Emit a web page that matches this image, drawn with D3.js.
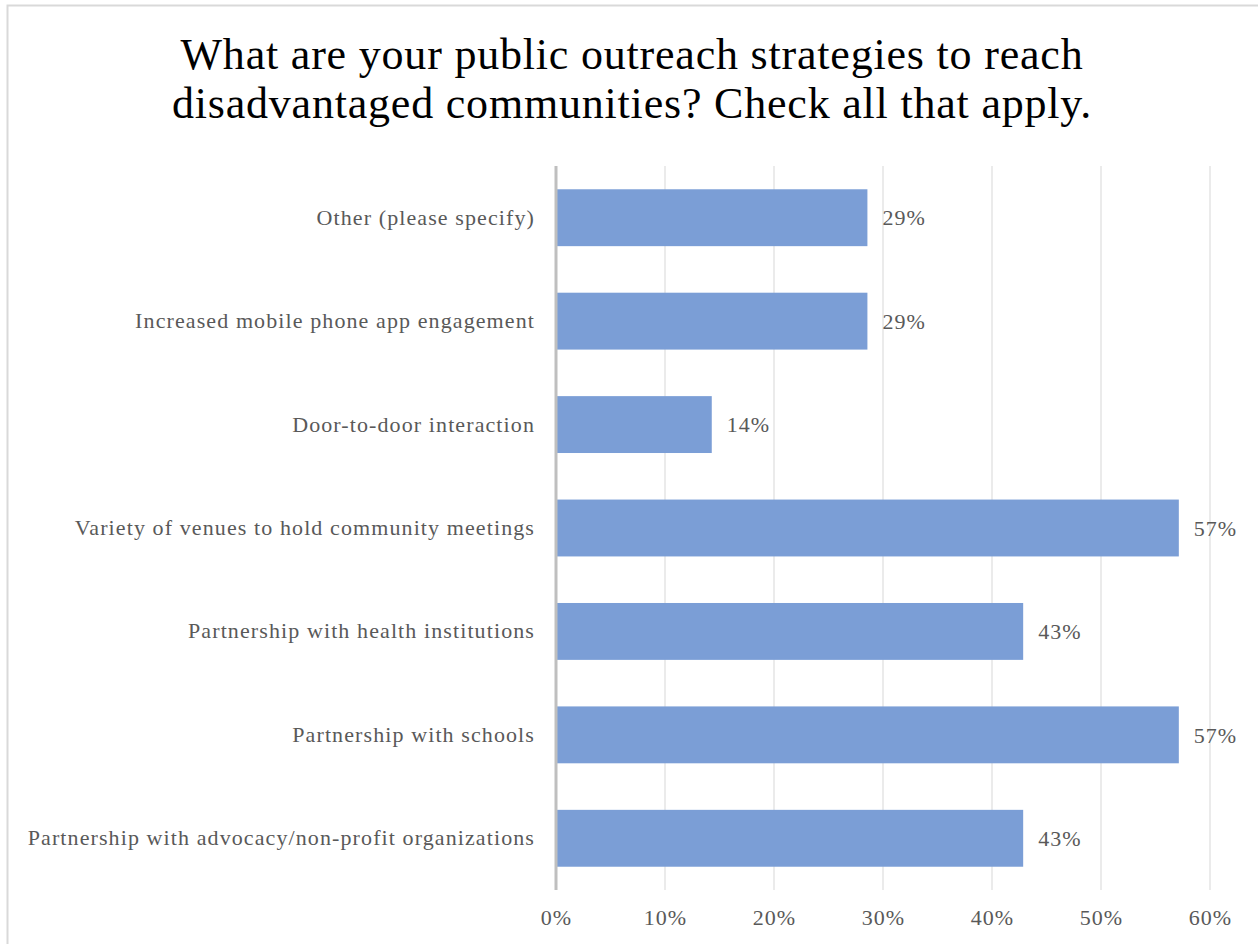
<!DOCTYPE html>
<html>
<head>
<meta charset="utf-8">
<script src="https://cdn.jsdelivr.net/npm/d3@7"></script>
<style>
  html, body { margin: 0; padding: 0; background: #fff; }
  svg { display: block; }
</style>
</head>
<body>
<svg id="chart" width="1258" height="944"></svg>
<script>
// Survey responses, listed top to bottom as drawn
const categories = [
  "Other (please specify)",
  "Increased mobile phone app engagement",
  "Door-to-door interaction",
  "Variety of venues to hold community meetings",
  "Partnership with health institutions",
  "Partnership with schools",
  "Partnership with advocacy/non-profit organizations"
];
const shares = [0.2857, 0.2857, 0.1429, 0.5714, 0.4286, 0.5714, 0.4286];
const valueLabels = ["29%", "29%", "14%", "57%", "43%", "57%", "43%"];
const tickValues = [0, 0.1, 0.2, 0.3, 0.4, 0.5, 0.6];
const titleLines = [
  "What are your public outreach strategies to reach",
  "disadvantaged communities? Check all that apply."
];

const svg = d3.select("#chart");
const font = "'Liberation Serif', 'DejaVu Serif', serif";
const textGrey = "#595959";

// outer frame
svg.append("rect")
  .attr("x", 7.5).attr("y", 5.5)
  .attr("width", 1262).attr("height", 960)
  .attr("fill", "#fff").attr("stroke", "#d9d9d9").attr("stroke-width", 2);

// title
svg.append("g").selectAll("text")
  .data(titleLines)
  .join("text")
  .attr("x", 632)
  .attr("y", (d, i) => 69 + i * 49)
  .attr("text-anchor", "middle")
  .attr("font-family", font)
  .attr("font-size", 44)
  .attr("letter-spacing", 0.8)
  .attr("fill", "#000")
  .text(d => d);

const plot = { left: 556, right: 1210, top: 166, bottom: 890 };

const x = d3.scaleLinear().domain([0, 0.6]).range([plot.left, plot.right]);
const y = d3.scaleBand().domain(categories).range([plot.top, plot.bottom]).paddingInner(0.45).paddingOuter(0.225);

// vertical gridlines
svg.append("g").selectAll("line")
  .data(tickValues.slice(1))
  .join("line")
  .attr("x1", d => x(d)).attr("x2", d => x(d))
  .attr("y1", plot.top).attr("y2", plot.bottom)
  .attr("stroke", "#ebebeb").attr("stroke-width", 2);

// bars
svg.append("g").selectAll("rect")
  .data(categories)
  .join("rect")
  .attr("x", x(0))
  .attr("y", d => y(d))
  .attr("width", (d, i) => x(shares[i]) - x(0))
  .attr("height", y.bandwidth())
  .attr("fill", "#7b9ed6");

// value labels
svg.append("g").selectAll("text")
  .data(categories)
  .join("text")
  .attr("x", (d, i) => x(shares[i]) + 15)
  .attr("y", d => y(d) + y.bandwidth() / 2)
  .attr("dy", "0.35em")
  .attr("font-family", font)
  .attr("font-size", 22)
  .attr("letter-spacing", 1)
  .attr("fill", textGrey)
  .text((d, i) => valueLabels[i]);

// category axis
const yAxis = svg.append("g")
  .attr("transform", `translate(${plot.left},0)`)
  .call(d3.axisLeft(y).tickSize(0).tickPadding(21));
yAxis.select(".domain").remove();
yAxis.selectAll("text")
  .attr("font-family", font)
  .attr("font-size", 22)
  .attr("letter-spacing", 1.1)
  .attr("fill", textGrey);
svg.append("line")
  .attr("x1", plot.left).attr("x2", plot.left)
  .attr("y1", plot.top).attr("y2", plot.bottom)
  .attr("stroke", "#bfbfbf").attr("stroke-width", 3);

// value axis
const xAxis = svg.append("g")
  .attr("transform", `translate(0,${plot.bottom})`)
  .call(d3.axisBottom(x).tickValues(tickValues).tickFormat(d3.format(".0%")).tickSize(0).tickPadding(19));
xAxis.select(".domain").remove();
xAxis.selectAll("text")
  .attr("font-family", font)
  .attr("font-size", 22)
  .attr("letter-spacing", 1)
  .attr("fill", textGrey);
</script>
</body>
</html>
